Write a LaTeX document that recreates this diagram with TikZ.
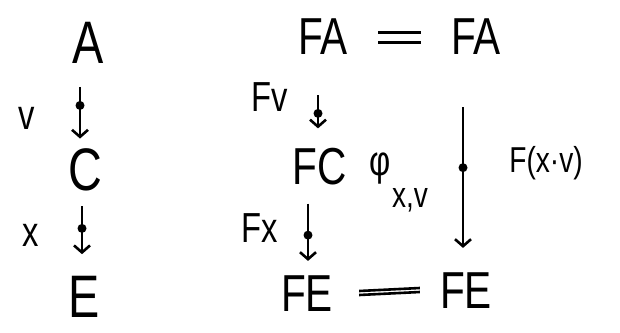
\documentclass[tikz,border=0pt]{standalone}
\usepackage{fontspec}
\setmainfont[FakeStretch=0.78]{Liberation Sans}
\usetikzlibrary{arrows.meta}
\begin{document}
\begin{tikzpicture}[x=1pt,y=-1pt,
  obj/.style={inner sep=0pt,font=\fontsize{52}{52}\selectfont},
  bigobj/.style={inner sep=0pt,font=\fontsize{60}{60}\selectfont},
  lab/.style={inner sep=0pt,font=\fontsize{42}{42}\selectfont},
  smalllab/.style={inner sep=0pt,font=\fontsize{36}{36}\selectfont},
  pro/.style={line width=2.8pt,-{Straight Barb[length=7pt,width=16pt,line width=2.6pt]}},
  dotmark/.style={circle,fill=black,inner sep=0pt,minimum size=9pt},
  eqline/.style={line width=3pt}]
\useasboundingbox (0,0) rectangle (620,332);
% left column
\node[bigobj] (A) at (88,43) {A};
\node[bigobj] (C) at (85,170) {C};
\node[bigobj] (E) at (84,297) {E};
\node[lab] (lv) at (27,118) {v};
\node[lab] (lx) at (31,235) {x};
\draw[pro] ([xshift=-8pt,yshift=-23pt]A.south) -- node[dotmark,pos=0.36]{} ([xshift=-5pt,yshift=10pt]C.north);
\draw[pro] ([xshift=-3pt,yshift=-15pt]C.south) -- node[dotmark,pos=0.46]{} ([xshift=-2pt,yshift=22pt]E.north);
% right part
\node[obj] (FA1) at (323,37) {FA};
\node[obj] (FA2) at (476,37) {FA};
\node[obj] (FC) at (320,167) {FC};
\node[obj] (FE1) at (307,294) {FE};
\node[obj] (FE2) at (466,291) {FE};
\node[lab] (phi) at (380,169) {φ};
\node[smalllab] (sub) at (410,200) {x,v};
\node[lab] (Fv) at (270,97) {Fv};
\node[lab] (Fx) at (260,228) {Fx};
\node[smalllab] (Fxv) at (546,163) {F(x·v)};
\draw[eqline] ([xshift=30pt,yshift=-5pt]FA1.east) -- ([xshift=-30pt,yshift=-5pt]FA2.west);
\draw[eqline] ([xshift=30pt,yshift=5pt]FA1.east) -- ([xshift=-30pt,yshift=5pt]FA2.west);
\draw[line width=2.6pt] ([xshift=26pt,yshift=-1pt]FE1.east) -- ([xshift=-20pt,yshift=-1pt]FE2.west);
\draw[line width=2.6pt] ([xshift=26pt,yshift=3pt]FE1.east) -- ([xshift=-20pt,yshift=3pt]FE2.west);
\draw[pro] ([xshift=-5pt,yshift=-40pt]FA1.south) -- node[dotmark,pos=0.55]{} ([xshift=-2pt,yshift=20pt]FC.north);
\draw[pro] ([xshift=-12pt,yshift=-18pt]FC.south) -- node[dotmark,pos=0.55]{} ([xshift=1pt,yshift=15pt]FE1.north);
\draw[pro] ([xshift=-13pt,yshift=-52pt]FA2.south) -- node[dotmark,pos=0.43]{} ([xshift=-3pt,yshift=25pt]FE2.north);
\end{tikzpicture}
\end{document}
